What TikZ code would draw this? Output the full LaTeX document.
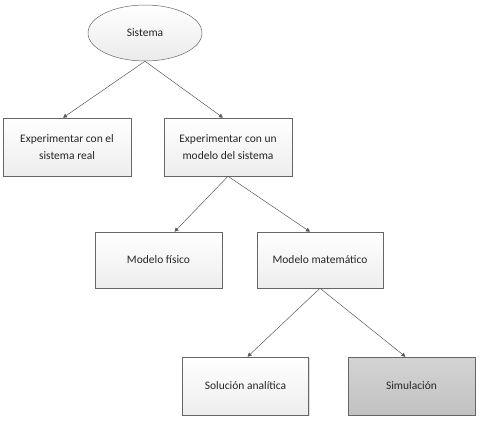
\documentclass[tikz,border=0pt]{standalone}
\usepackage{fontspec}
\setmainfont{Carlito}
\usetikzlibrary{shapes.geometric,arrows.meta,shadows}
\begin{document}
\begin{tikzpicture}[x=1pt,y=-1pt,
  boxstyle/.style={draw=gray!80!black,line width=0.5pt,top color=white,bottom color=black!7,
    drop shadow={shadow xshift=1pt,shadow yshift=-1pt,opacity=0.25},
    align=center,text=black!85,font=\fontsize{11.5}{16.5}\selectfont,inner sep=0pt},
  conn/.style={draw=gray!70!black,line width=0.5pt,-{Triangle[length=4pt,width=4pt]}}]
\useasboundingbox (0,0) rectangle (486,426);
\node[ellipse,draw=gray!80!black,line width=0.5pt,top color=white,bottom color=black!8,text=black!85,
  minimum width=114pt,minimum height=56pt,inner sep=0pt,font=\fontsize{11.5}{14}\selectfont] (sis) at (145,33) {Sistema};
\node[boxstyle,minimum width=128pt,minimum height=58pt] (real) at (67,147) {Experimentar con el\\sistema real};
\node[boxstyle,minimum width=128pt,minimum height=58pt] (mod) at (228,147) {Experimentar con un\\modelo del sistema};
\node[boxstyle,minimum width=127pt,minimum height=56pt] (fis) at (158.5,260) {Modelo físico};
\node[boxstyle,minimum width=126pt,minimum height=56pt] (mat) at (320,260) {Modelo matemático};
\node[boxstyle,minimum width=126pt,minimum height=58pt] (ana) at (245.5,386) {Solución analítica};
\node[boxstyle,top color=black!17,bottom color=black!24,minimum width=127pt,minimum height=58pt] (sim) at (411.5,386) {Simulación};
\draw[conn] (sis.south) -- ([xshift=-4pt]real.north);
\draw[conn] (sis.south) -- ([xshift=-5pt]mod.north);
\draw[conn] (mod.south) -- ([xshift=16pt]fis.north);
\draw[conn] (mod.south) -- ([xshift=-10pt]mat.north);
\draw[conn] (mat.south) -- ([xshift=2pt]ana.north);
\draw[conn] (mat.south) -- ([xshift=-6pt]sim.north);
\end{tikzpicture}
\end{document}
